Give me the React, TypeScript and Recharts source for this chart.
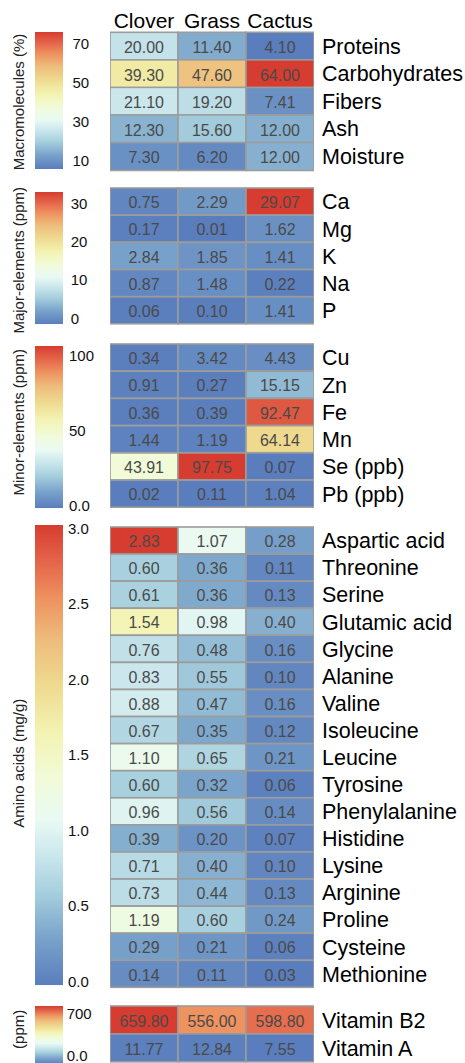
import React from "react";
import { BarChart, Bar, XAxis, YAxis } from "recharts";

const COLS = ["Clover", "Grass", "Cactus"];
const COL_KEYS = ["clover", "grass", "cactus"];

const macroRows = ["Proteins", "Carbohydrates", "Fibers", "Ash", "Moisture"];
const macroClover = [20.0, 39.3, 21.1, 12.3, 7.3];
const macroGrass = [11.4, 47.6, 19.2, 15.6, 6.2];
const macroCactus = [4.1, 64.0, 7.41, 12.0, 12.0];

const majorRows = ["Ca", "Mg", "K", "Na", "P"];
const majorClover = [0.75, 0.17, 2.84, 0.87, 0.06];
const majorGrass = [2.29, 0.01, 1.85, 1.48, 0.1];
const majorCactus = [29.07, 1.62, 1.41, 0.22, 1.41];

const minorRows = ["Cu", "Zn", "Fe", "Mn", "Se (ppb)", "Pb (ppb)"];
const minorClover = [0.34, 0.91, 0.36, 1.44, 43.91, 0.02];
const minorGrass = [3.42, 0.27, 0.39, 1.19, 97.75, 0.11];
const minorCactus = [4.43, 15.15, 92.47, 64.14, 0.07, 1.04];

const aminoRows = [
  "Aspartic acid", "Threonine", "Serine", "Glutamic acid", "Glycine", "Alanine",
  "Valine", "Isoleucine", "Leucine", "Tyrosine", "Phenylalanine", "Histidine",
  "Lysine", "Arginine", "Proline", "Cysteine", "Methionine",
];
const aminoClover = [2.83, 0.6, 0.61, 1.54, 0.76, 0.83, 0.88, 0.67, 1.1, 0.6, 0.96, 0.39, 0.71, 0.73, 1.19, 0.29, 0.14];
const aminoGrass = [1.07, 0.36, 0.36, 0.98, 0.48, 0.55, 0.47, 0.35, 0.65, 0.32, 0.56, 0.2, 0.4, 0.44, 0.6, 0.21, 0.11];
const aminoCactus = [0.28, 0.11, 0.13, 0.4, 0.16, 0.1, 0.16, 0.12, 0.21, 0.06, 0.14, 0.07, 0.1, 0.13, 0.24, 0.06, 0.03];

const vitRows = ["Vitamin B2", "Vitamin A"];
const vitClover = [659.8, 11.77];
const vitGrass = [556.0, 12.84];
const vitCactus = [598.8, 7.55];

// legend tick values
const macroTicks = [10, 30, 50, 70];
const majorTicks = [0, 10, 20, 30];
const minorTicks = [0, 50, 100];
const aminoTicks = [0, 0.5, 1, 1.5, 2, 2.5, 3];
const vitTicks = [0, 700];

const FONT = '"Liberation Sans", Arial, Helvetica, sans-serif';

const STOPS: [number, string][] = [
  [0.0, "#5a7dbd"],
  [0.1, "#78a2ca"],
  [0.2, "#a6cfdd"],
  [0.28, "#c9e6ec"],
  [0.36, "#eafaf4"],
  [0.45, "#f1fbd8"],
  [0.55, "#f3f3b1"],
  [0.66, "#eed88d"],
  [0.75, "#eebc7b"],
  [0.84, "#ee925f"],
  [0.92, "#e4654a"],
  [1.0, "#d63c2f"],
];

function hex(c: string) {
  return [parseInt(c.slice(1, 3), 16), parseInt(c.slice(3, 5), 16), parseInt(c.slice(5, 7), 16)];
}

function colorAt(t: number) {
  const tt = Math.max(0, Math.min(1, t));
  for (let i = 1; i < STOPS.length; i++) {
    if (tt <= STOPS[i][0]) {
      const [t0, c0] = STOPS[i - 1];
      const [t1, c1] = STOPS[i];
      const f = (tt - t0) / (t1 - t0);
      const a = hex(c0);
      const b = hex(c1);
      const m = a.map((v, k) => Math.round(v + (b[k] - v) * f));
      return `rgb(${m[0]},${m[1]},${m[2]})`;
    }
  }
  return STOPS[STOPS.length - 1][1];
}

function makeRows(names: string[], a: number[], b: number[], c: number[]) {
  return names.map((n, i) => ({ name: n, clover: a[i], grass: b[i], cactus: c[i] }));
}

const unit = () => 1;

type HeatProps = {
  rows: any[];
  top: number;
  bottom: number;
  header?: boolean;
};

function Heatmap({ rows, top, bottom, header }: HeatProps) {
  const vals: number[] = [];
  rows.forEach((r) => COL_KEYS.forEach((k) => vals.push(r[k])));
  const mn = Math.min(...vals);
  const mx = Math.max(...vals);
  const fill = (v: number) => colorAt((v - mn) / (mx - mn));
  const headerH = 32.3;
  const mt = header ? 0 : 2;
  const chartTop = header ? top - headerH : top - mt;
  const h = bottom - top + (header ? headerH : mt) + 2;

  const makeShape = (key: string) => (p: any) => {
    const v = p.payload[key];
    return (
      <g>
        <rect x={p.x} y={p.y} width={p.width} height={p.height} fill={fill(v)} stroke="#9c9c9c" strokeWidth={1.6} />
        <text
          x={p.x + p.width / 2}
          y={p.y + p.height / 2}
          dy="0.42em"
          textAnchor="middle"
          fontFamily={FONT}
          fontSize={16}
          fill="#4a4a4a"
        >
          {v.toFixed(2)}
        </text>
      </g>
    );
  };

  return (
    <div style={{ position: "absolute", left: 0, top: chartTop }}>
      <BarChart
        layout="vertical"
        width={465}
        height={h}
        data={rows}
        margin={{ top: mt, right: 0, left: 110, bottom: 2 }}
        barCategoryGap={0}
        style={{ overflow: "visible" }}
      >
        <XAxis
          type="number"
          domain={[0, 3]}
          allowDataOverflow
          hide={!header}
          orientation="top"
          height={headerH}
          ticks={[0.5, 1.5, 2.5]}
          interval={0}
          axisLine={false}
          tickLine={false}
          tickSize={0}
          tickMargin={4}
          tick={(p: any) => (
            <text x={p.x} y={p.y} textAnchor="middle" fontFamily={FONT} fontSize={21} fill="#000">
              {COLS[Math.floor(p.payload.value)]}
            </text>
          )}
        />
        <YAxis
          type="category"
          dataKey="name"
          orientation="right"
          width={151}
          interval={0}
          axisLine={false}
          tickLine={false}
          tickSize={0}
          tickMargin={8}
          tick={(p: any) => (
            <text x={p.x} y={p.y} dy="0.36em" textAnchor="start" fontFamily={FONT} fontSize={21.5} fill="#000">
              {p.payload.value}
            </text>
          )}
        />
        {COL_KEYS.map((k) => (
          <Bar key={k} dataKey={unit} stackId="s" isAnimationActive={false} shape={makeShape(k)} />
        ))}
      </BarChart>
    </div>
  );
}

type BarProps = {
  id: string;
  top: number;
  bottom: number;
  domain: [number, number];
  ticks: number[];
  fmt: (v: number) => string;
  tickX: number;
  title: string;
  titleY: number;
};

function ColorBar({ id, top, bottom, domain, ticks, fmt, tickX, title, titleY }: BarProps) {
  const pad = 10;
  const data = [{ k: "c", r: domain }];
  const stops = STOPS.slice().reverse();
  return (
    <div style={{ position: "absolute", left: 0, top: top - pad }}>
      <BarChart
        width={100}
        height={bottom - top + 2 * pad}
        data={data}
        margin={{ top: pad, right: 0, left: 35, bottom: pad }}
        barCategoryGap={0}
        style={{ overflow: "visible" }}
      >
        <defs>
          <linearGradient id={id} x1="0" y1="0" x2="0" y2="1">
            {stops.map(([t, c]) => (
              <stop key={t} offset={`${(1 - t) * 100}%`} stopColor={c} />
            ))}
          </linearGradient>
        </defs>
        <XAxis dataKey="k" hide />
        <YAxis
          type="number"
          domain={domain}
          allowDataOverflow
          ticks={ticks}
          interval={0}
          orientation="right"
          width={37}
          axisLine={false}
          tickLine={false}
          tickSize={0}
          tickMargin={tickX - 63}
          tick={(p: any) => (
            <text x={p.x} y={p.y} dy="0.36em" textAnchor="start" fontFamily={FONT} fontSize={15} fill="#111">
              {fmt(p.payload.value)}
            </text>
          )}
        />
        <Bar dataKey="r" fill={`url(#${id})`} isAnimationActive={false} />
        <text
          x={24}
          y={titleY - (top - pad)}
          transform={`rotate(-90, 24, ${titleY - (top - pad)})`}
          textAnchor="middle"
          fontFamily={FONT}
          fontSize={15}
          fill="#222"
        >
          {title}
        </text>
      </BarChart>
    </div>
  );
}

export default function App() {
  return (
    <div
      style={{
        position: "absolute",
        left: 0,
        top: 0,
        width: 465,
        height: 1063,
        overflow: "hidden",
        background: "#fff",
      }}
    >
      <ColorBar id="g1" top={32} bottom={169} domain={[5.9, 76.2]} ticks={macroTicks} fmt={(v) => String(v)} tickX={72.5} title="Macromolecules (%)" titleY={102} />
      <Heatmap rows={makeRows(macroRows, macroClover, macroGrass, macroCactus)} top={32.3} bottom={170} header />

      <ColorBar id="g2" top={191.7} bottom={324} domain={[-1.6, 32.9]} ticks={majorTicks} fmt={(v) => String(v)} tickX={70.7} title="Major-elements (ppm)" titleY={260} />
      <Heatmap rows={makeRows(majorRows, majorClover, majorGrass, majorCactus)} top={188.3} bottom={324.3} />

      <ColorBar id="g3" top={345.7} bottom={508} domain={[-2, 106.2]} ticks={minorTicks} fmt={(v) => (v === 0 ? "0.0" : String(v))} tickX={69} title="Minor-elements (ppm)" titleY={422} />
      <Heatmap rows={makeRows(minorRows, minorClover, minorGrass, minorCactus)} top={344.3} bottom={507.7} />

      <ColorBar id="g4" top={524.7} bottom={985} domain={[-0.027, 3.024]} ticks={aminoTicks} fmt={(v) => v.toFixed(1)} tickX={68} title="Amino acids (mg/g)" titleY={763} />
      <Heatmap rows={makeRows(aminoRows, aminoClover, aminoGrass, aminoCactus)} top={527.3} bottom={987.7} />

      <ColorBar id="g5" top={1005.7} bottom={1064} domain={[-150, 833]} ticks={vitTicks} fmt={(v) => (v === 0 ? "0.0" : String(v))} tickX={66.7} title="(ppm)" titleY={1029} />
      <Heatmap rows={makeRows(vitRows, vitClover, vitGrass, vitCactus)} top={1006} bottom={1061.7} />
    </div>
  );
}
